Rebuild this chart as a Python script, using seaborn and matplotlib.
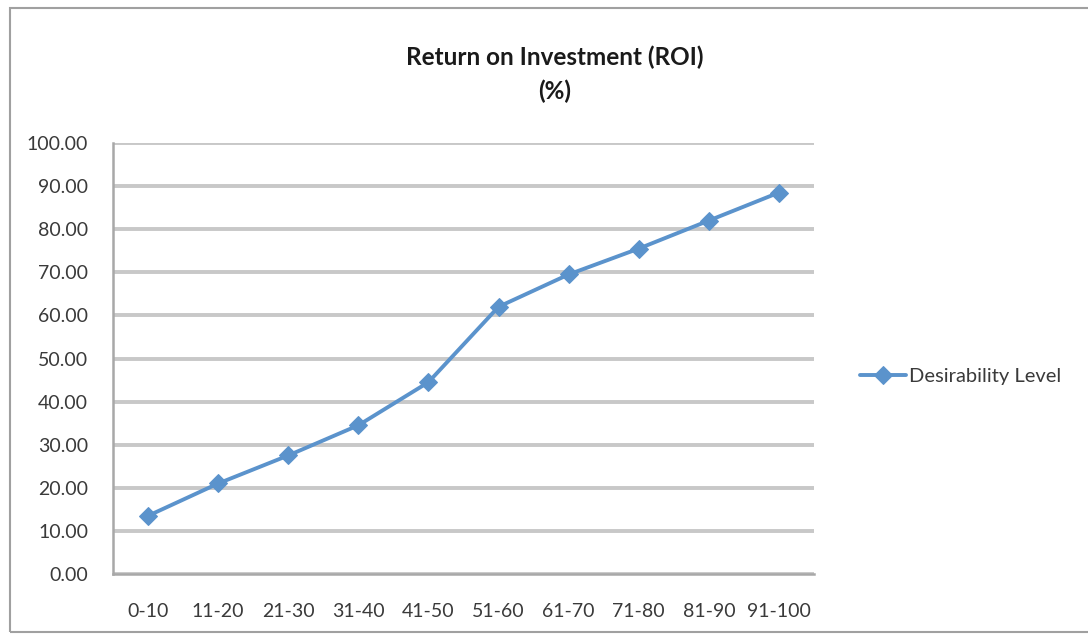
import pandas as pd
import seaborn as sns
import matplotlib.pyplot as plt
from matplotlib.patches import Rectangle
from matplotlib.ticker import FixedLocator

# data
ranges = ['0-10', '11-20', '21-30', '31-40', '41-50',
          '51-60', '61-70', '71-80', '81-90', '91-100']
desirability = [13.5, 21.0, 27.5, 34.5, 44.5, 62.0, 69.5, 75.5, 82.0, 88.5]
y_ticks = [0, 10, 20, 30, 40, 50, 60, 70, 80, 90, 100]

df = pd.DataFrame({'Range': ranges, 'Desirability Level': desirability})
df['pos'] = range(len(df))

sns.set_style('white')
plt.rcParams['font.family'] = ['Lato', 'DejaVu Sans']

line_color = '#5B93CC'
grid_color = '#C8C8C8'
axis_color = '#A8A8A8'
text_color = '#3A3A3A'

fig = plt.figure(figsize=(10.88, 6.35), dpi=100)
ax = fig.add_axes([113 / 1088, 1 - 574 / 635, (814 - 113) / 1088, (574 - 143) / 635])

# chart frame like the spreadsheet chart box
fig.patches.append(Rectangle((10 / 1088, 3 / 635), 1, 1 - 11 / 635,
                             transform=fig.transFigure, fill=False,
                             edgecolor='#A0A0A0', linewidth=1.5))

sns.lineplot(data=df, x='pos', y='Desirability Level', ax=ax, color=line_color,
             linewidth=2.8, marker='D', markersize=9, markeredgecolor=line_color,
             label='Desirability Level')

ax.set_xlim(-0.5, len(ranges) - 0.5)
ax.set_ylim(0, 100)
ax.set_yticks(y_ticks)
ax.set_yticklabels([f'{v:.2f}' for v in y_ticks], fontsize=14, color=text_color)
ax.yaxis.grid(True, color=grid_color, linewidth=2.8)
ax.set_axisbelow(True)

ax.set_xticks(range(len(ranges)))
ax.set_xticklabels(ranges, fontsize=14, color=text_color)
ax.tick_params(axis='x', which='major', length=0, pad=21)
ax.xaxis.set_minor_locator(FixedLocator([i - 0.5 for i in range(len(ranges) + 1)]))
ax.tick_params(axis='x', which='minor', length=6, width=1.5, color=axis_color)
ax.tick_params(axis='y', length=6, width=1.5, color=axis_color, direction='out', pad=12)

for side in ['top', 'right']:
    ax.spines[side].set_visible(False)
for side in ['left', 'bottom']:
    ax.spines[side].set_color(axis_color)
    ax.spines[side].set_linewidth(1.8)

ax.set_xlabel('')
ax.set_ylabel('')

leg = ax.legend(loc='center left', bbox_to_anchor=(852 / 1088, 1 - 376 / 635),
                bbox_transform=fig.transFigure, frameon=False, fontsize=14.5,
                handlelength=2.3, handletextpad=0.15, borderaxespad=0)
for t in leg.get_texts():
    t.set_color(text_color)

fig.text(555 / 1088, 1 - 74 / 635, 'Return on Investment (ROI)\n(%)',
         ha='center', va='center', fontsize=17.5, fontweight='bold',
         linespacing=1.55, color='#1A1A1A')

fig.savefig('out.png', dpi=100)
